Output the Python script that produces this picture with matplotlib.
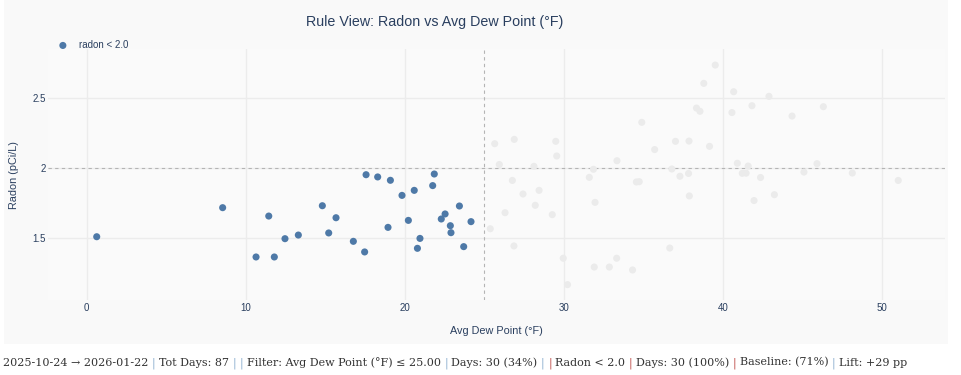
import matplotlib
matplotlib.use("Agg")
import matplotlib.pyplot as plt
from matplotlib.patches import Rectangle
from matplotlib.font_manager import FontProperties

# ---------------- data ----------------
title = "Rule View: Radon vs Avg Dew Point (°F)"
x_label = "Avg Dew Point (°F)"
y_label = "Radon (pCi/L)"
legend_label = "radon < 2.0"
x_ticks = [0, 10, 20, 30, 40, 50]
y_ticks = [1.5, 2.0, 2.5]
y_tick_labels = ["1.5", "2", "2.5"]
dew_threshold = 25.0
radon_threshold = 2.0

# highlighted days (Avg Dew Point <= 25)
sel_dew = [0.63, 8.55, 11.45, 10.65, 11.8, 12.47, 13.31, 14.82, 15.22, 15.68,
           16.77, 17.48, 17.57, 18.3, 18.95, 19.1, 19.83, 20.23, 20.6, 20.96,
           20.8, 21.76, 21.86, 22.3, 22.54, 22.87, 22.91, 23.44, 23.71, 24.17]
sel_radon = [1.508, 1.716, 1.656, 1.363, 1.363, 1.494, 1.52, 1.73, 1.535, 1.644,
             1.475, 1.399, 1.952, 1.936, 1.575, 1.912, 1.804, 1.625, 1.84, 1.496,
             1.425, 1.874, 1.957, 1.635, 1.671, 1.587, 1.537, 1.728, 1.437, 1.616]

# remaining days (faded)
oth_dew = [25.66, 25.95, 26.89, 28.13, 29.50, 29.56, 31.87, 33.35, 34.91, 35.72,
           36.80, 37.03, 37.88, 38.35, 38.57, 38.81, 39.17, 39.53, 40.58, 40.69,
           40.92, 41.60, 41.84, 42.91, 44.36, 45.93, 46.33, 26.77, 27.44, 28.45,
           26.31, 28.21, 29.28, 25.38, 26.87, 31.61, 31.97, 34.57, 34.75, 37.31,
           37.85, 37.90, 29.97, 30.24, 31.92, 32.87, 33.33, 34.33, 36.67, 41.23,
           41.47, 42.38, 41.97, 43.25, 45.11, 48.15, 51.04]
oth_radon = [2.174, 2.025, 2.205, 2.012, 2.191, 2.086, 1.991, 2.052, 2.327, 2.132,
             1.993, 2.191, 2.193, 2.429, 2.406, 2.606, 2.155, 2.737, 2.397, 2.546,
             2.034, 2.014, 2.446, 2.513, 2.372, 2.031, 2.439, 1.911, 1.814, 1.840,
             1.680, 1.733, 1.666, 1.565, 1.442, 1.933, 1.754, 1.900, 1.902, 1.941,
             1.961, 1.800, 1.354, 1.165, 1.291, 1.291, 1.354, 1.270, 1.427, 1.962,
             1.963, 1.932, 1.767, 1.809, 1.971, 1.964, 1.911]

# summary line: tokens joined by single spaces, with their colour roles
summary_tokens = [
    ("2025-10-24 \u2192 2026-01-22", "text"),
    ("|", "blue"),
    ("Tot Days: 87", "text"),
    ("|", "blue"),
    ("|", "blue"),
    ("Filter: Avg Dew Point (°F) \u2264 25.00", "text"),
    ("|", "blue"),
    ("Days: 30 (34%)", "text"),
    ("|", "blue"),
    ("|", "red"),
    ("Radon < 2.0", "text"),
    ("|", "red"),
    ("Days: 30 (100%)", "text"),
    ("|", "red"),
    ("Baseline: (71%)", "text"),
    ("|", "blue"),
    ("Lift: +29 pp", "text"),
]

# ---------------- styling ----------------
W, H = 961, 375
BLUE = "#4e79a7"
FADED = "#ebebeb"
INK = "#2a3f5f"
GRID = "#ececec"
SANS = "Liberation Sans"
SERIF = "DejaVu Serif"
seg_colors = {"text": "#333333", "blue": "#8fb0d0", "red": "#c0504d"}

fig = plt.figure(figsize=(W / 100, H / 100), dpi=100, facecolor="white")
fig.patches.append(Rectangle((4 / W, 1 - 344 / H), (948 - 4) / W, 344 / H,
                             transform=fig.transFigure, facecolor="#f9f9f9",
                             edgecolor="none", zorder=-10))

L, R, T, B = 48, 945, 49, 300
ax = fig.add_axes([L / W, 1 - B / H, (R - L) / W, (B - T) / H])
ax.set_facecolor("#fafafa")
for s in ax.spines.values():
    s.set_visible(False)

ax.set_xlim(-2.434, 53.98)
ax.set_ylim(1.055, 2.852)

ax.set_xticks(x_ticks)
ax.set_yticks(y_ticks)
ax.set_yticklabels(y_tick_labels)
ax.tick_params(length=0, labelsize=7, labelcolor=INK)
ax.tick_params(axis="x", pad=2.5)
ax.tick_params(axis="y", pad=1.5)
for lbl in ax.get_xticklabels() + ax.get_yticklabels():
    lbl.set_fontfamily(SANS)
ax.grid(True, color=GRID, linewidth=1.0, zorder=0)
ax.set_axisbelow(True)

ax.axhline(radon_threshold, color="#b4b4b4", linestyle=(0, (3, 3)), linewidth=0.8, zorder=1)
ax.axvline(dew_threshold, color="#b4b4b4", linestyle=(0, (3, 3)), linewidth=0.8, zorder=1)

ax.scatter(oth_dew, oth_radon, s=26, color=FADED, edgecolors="none", zorder=2)
ax.scatter(sel_dew, sel_radon, s=26, color=BLUE, edgecolors="none", zorder=3,
           label=legend_label)

ax.set_xlabel(x_label, fontsize=7.8, color=INK, family=SANS)
ax.set_ylabel(y_label, fontsize=7.8, color=INK, family=SANS)
ax.xaxis.label.set_va("center")
ax.yaxis.label.set_va("center")
ax.xaxis.set_label_coords(0.5, -(331 - B) / (B - T), transform=ax.transAxes)
ax.yaxis.set_label_coords((14 - L) / (R - L), (B - 175) / (B - T), transform=ax.transAxes)

fig.text(435 / W, 1 - 22 / H, title, ha="center", va="center", fontsize=10.3,
         color=INK, family=SANS)

leg = ax.legend(loc="center left", bbox_to_anchor=(58 / W, 1 - 45 / H),
                bbox_transform=fig.transFigure, frameon=False,
                prop=FontProperties(family=SANS, size=7),
                handletextpad=1.2, borderpad=0, borderaxespad=0, handlelength=1.0,
                labelcolor=INK)

# ---------------- summary line (coloured separators) ----------------
renderer = fig.canvas.get_renderer()
x0, ybase = 3.0, 1 - 365.5 / H


def width(s, size):
    t = fig.text(0, 0, s, fontsize=size, family=SERIF)
    w = t.get_window_extent(renderer).width
    t.remove()
    return w


full = " ".join(s for s, _ in summary_tokens)
size = 10 * (905 - x0) / width(full, 10)

# pen advance of a prefix: a leading space pins the box to the pen origin,
# a trailing probe glyph captures the advance of the prefix's last character
probe_w = width(" |", size)
prefix = ""
for tok, kind in summary_tokens:
    origin = width(" " + prefix + "|", size) - probe_w
    fig.text((x0 + origin) / W, ybase, tok, ha="left", va="baseline", fontsize=size,
             color=seg_colors[kind], family=SERIF)
    prefix += tok + " "

fig.savefig("out.png", dpi=100, facecolor="white")
